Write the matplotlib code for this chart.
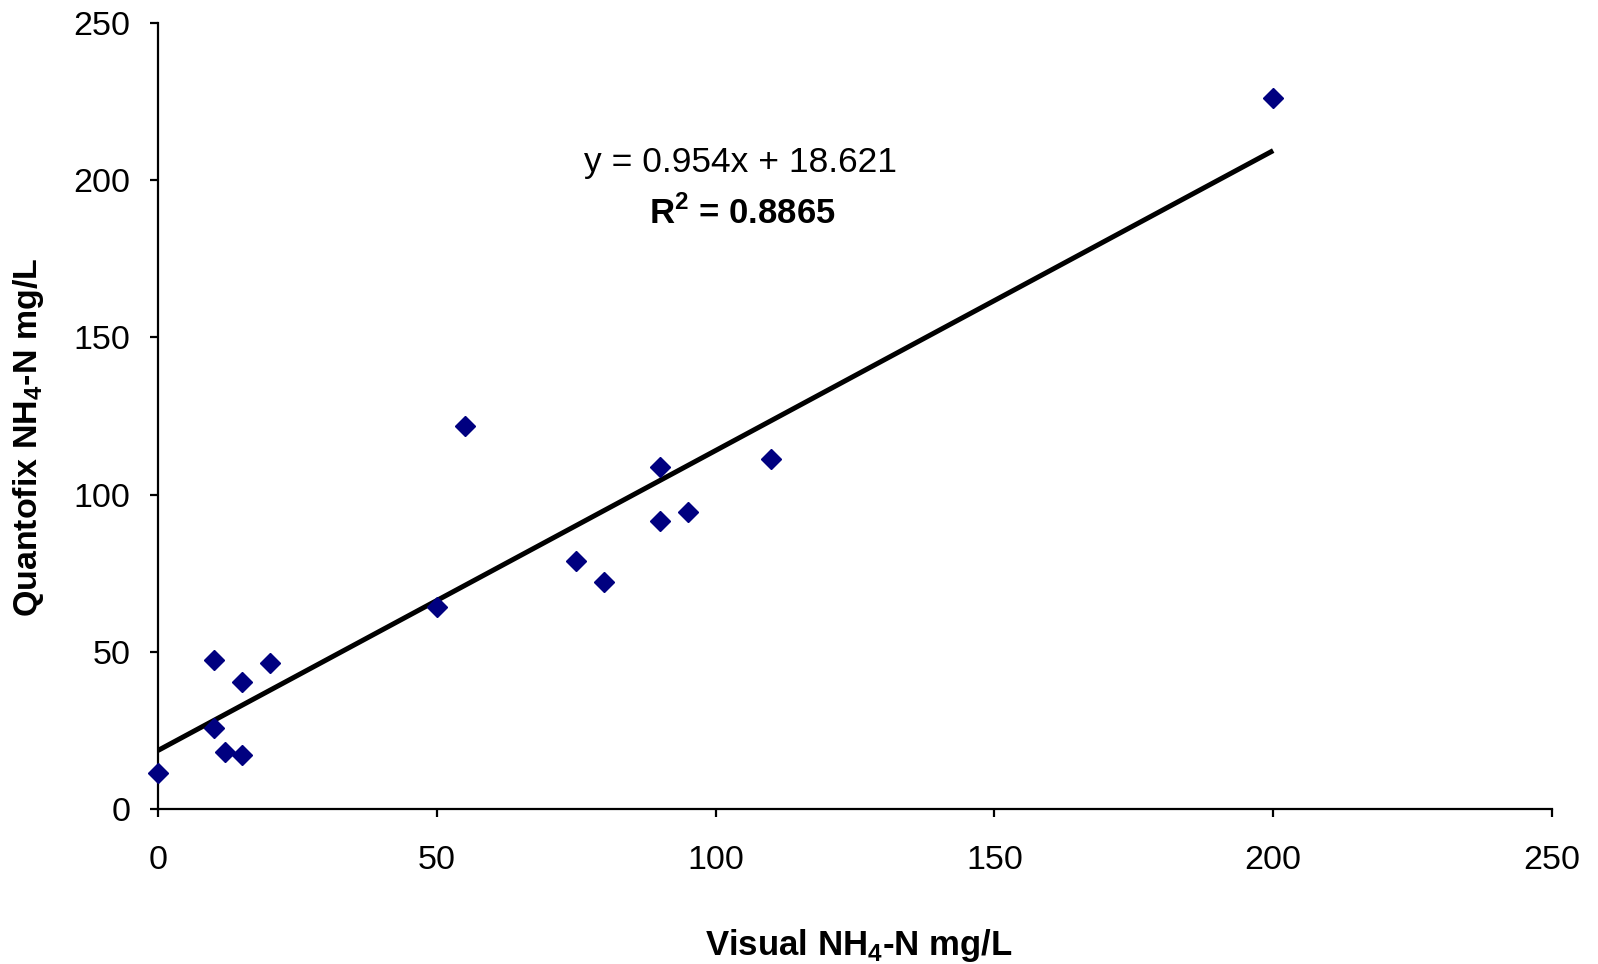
import matplotlib
matplotlib.use('Agg')
import matplotlib.pyplot as plt
import numpy as np

plt.rcParams['font.family'] = ['Liberation Sans', 'DejaVu Sans']
plt.rcParams['mathtext.fontset'] = 'custom'
plt.rcParams['mathtext.rm'] = 'Liberation Sans'
plt.rcParams['mathtext.bf'] = 'Liberation Sans:bold'

# data
visual = [0, 10, 10, 12, 15, 15, 20, 50, 55, 75, 80, 90, 90, 95, 110, 200]
quantofix = [11.3, 47.3, 25.9, 18.1, 40.5, 17.2, 46.3, 64.1, 121.8, 79.0,
             72.2, 108.8, 91.6, 94.6, 111.4, 226.0]

# trendline from the label
slope = 0.954
intercept = 18.621
fit_range = [0, 200]

ticks = [0, 50, 100, 150, 200, 250]

fig = plt.figure(figsize=(15.98, 9.64), dpi=100)
ax = fig.add_axes([0.0989, 0.1608, 0.8723, 0.8153])

xs = np.array(fit_range)
ax.plot(xs, slope * xs + intercept, color='black', lw=3.6, solid_capstyle='butt', zorder=2)
ax.plot(visual, quantofix, ls='none', marker='D', ms=10, color='#000080', zorder=3,
        clip_on=False)

ax.set_xlim(0, 250)
ax.set_ylim(0, 250)
ax.set_xticks(ticks)
ax.set_yticks(ticks)
ax.tick_params(labelsize=24.5, width=1.6, length=6, direction='out')
ax.tick_params(axis='x', pad=20)
ax.tick_params(axis='y', pad=14)
for s in ['top', 'right']:
    ax.spines[s].set_visible(False)
for s in ['left', 'bottom']:
    ax.spines[s].set_linewidth(1.6)

fig.text(0.5375, 0.0197, r'Visual NH$_\mathbf{4}$-N mg/L', ha='center', va='center',
         fontsize=25, fontweight='bold')
fig.text(0.0181, 0.546, r'Quantofix NH$_\mathbf{4}$-N mg/L', ha='center', va='center',
         fontsize=24.5, fontweight='bold', rotation=90)

fig.text(0.4637, 1 - 162 / 964, 'y = 0.954x + 18.621', ha='center', va='center', fontsize=25.5)
fig.text(0.4643, 1 - 213 / 964, r'R$^\mathbf{2}$ = 0.8865', ha='center', va='center',
         fontsize=25, fontweight='bold')

fig.savefig('out.png', dpi=100)
